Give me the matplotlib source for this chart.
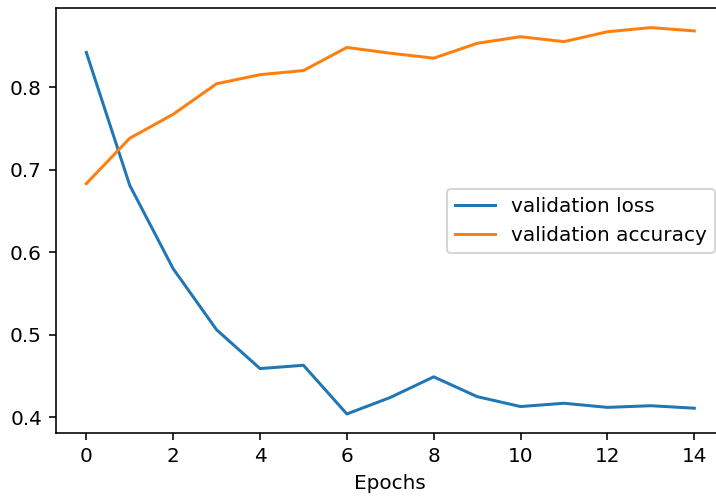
import matplotlib
matplotlib.use("Agg")
import matplotlib.pyplot as plt

epochs = list(range(15))
val_loss = [0.842, 0.681, 0.580, 0.506, 0.459, 0.463, 0.404, 0.424,
            0.449, 0.425, 0.413, 0.417, 0.412, 0.414, 0.411]
val_accuracy = [0.683, 0.738, 0.767, 0.804, 0.815, 0.820, 0.848, 0.841,
                0.835, 0.853, 0.861, 0.855, 0.867, 0.872, 0.868]

fig = plt.figure(figsize=(716 / 144, 497 / 144), dpi=144)
ax = fig.add_axes([55.9 / 716, 1 - 433.3 / 497, (724.7 - 55.9) / 716, (433.3 - 8.3) / 497])

ax.plot(epochs, val_loss, label="validation loss")
ax.plot(epochs, val_accuracy, label="validation accuracy")
ax.set_xlabel("Epochs")
ax.legend(loc="center right")

fig.savefig("out.png", dpi=144)
